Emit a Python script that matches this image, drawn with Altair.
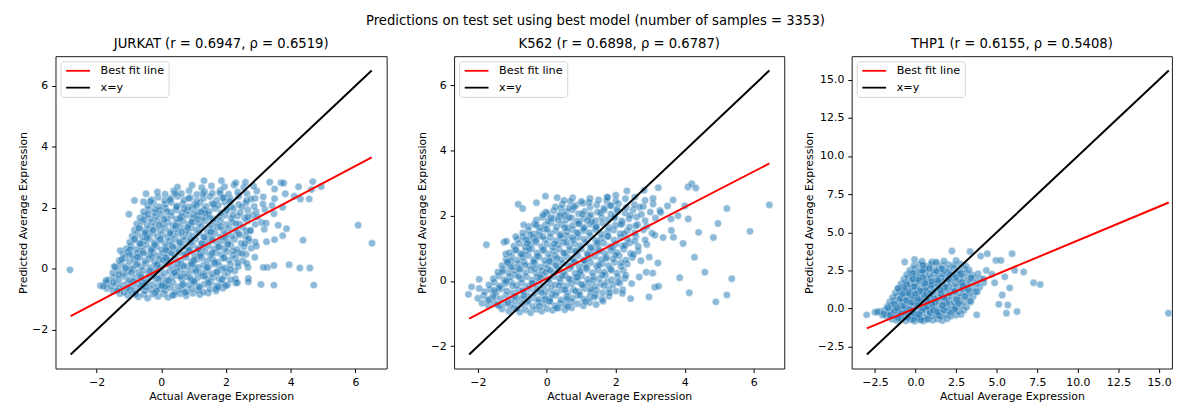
import altair as alt
import pandas as pd

FONT = "DejaVu Sans"

suptitle = "Predictions on test set using best model (number of samples = 3353)"
cell_lines = ["JURKAT", "K562", "THP1"]
pearson_r = ["0.6947", "0.6898", "0.6155"]
spearman_rho = ["0.6519", "0.6787", "0.5408"]
x_label = "Actual Average Expression"
y_label = "Predicted Average Expression"
legend_labels = ["Best fit line", "x=y"]
line_colors = ["#ff0000", "#000000"]

# (actual, predicted) pairs: a representative sample of each dense cloud
jurkat_cloud = [
    (-1.28,-0.81),(-1.04,-0.86),(-0.88,-0.8),(-0.71,-0.91),(-0.55,-0.84),(-0.42,-0.96),(-0.26,-0.83),(-0.1,-0.9),(0.07,-0.82),(0.21,-0.93),(0.39,-0.85),(0.58,-0.81),(0.77,-0.88),(0.98,-0.8),(1.19,-0.84),(1.45,-0.79),
    (-1.68,-0.64),(-1.49,-0.73),(-1.3,-0.66),(-1.15,-0.77),(-0.97,-0.69),(-0.8,-0.74),(-0.66,-0.63),(-0.5,-0.72),(-0.33,-0.67),(-0.19,-0.78),(-0.02,-0.65),(0.13,-0.71),(0.3,-0.62),(0.44,-0.76),(0.63,-0.68),(0.8,-0.73),(0.95,-0.64),(1.13,-0.7),(1.3,-0.76),(1.5,-0.66),(1.69,-0.72),(1.9,-0.63),
    (-1.88,-0.55),(-1.7,-0.46),(-1.54,-0.57),(-1.38,-0.49),(-1.2,-0.53),(-1.04,-0.44),(-0.9,-0.58),(-0.73,-0.5),(-0.58,-0.55),(-0.44,-0.45),(-0.27,-0.52),(-0.11,-0.57),(0.04,-0.47),(0.19,-0.54),(0.36,-0.44),(0.52,-0.58),(0.68,-0.49),(0.85,-0.53),(1.0,-0.45),(1.16,-0.56),(1.33,-0.5),(1.52,-0.43),(1.7,-0.55),(1.86,-0.47),(2.05,-0.52),(2.3,-0.46),
    (-1.62,-0.35),(-1.45,-0.27),(-1.3,-0.33),(-1.12,-0.24),(-0.97,-0.36),(-0.8,-0.29),(-0.64,-0.23),(-0.49,-0.34),(-0.33,-0.27),(-0.16,-0.32),(-0.01,-0.25),(0.16,-0.36),(0.31,-0.28),(0.48,-0.22),(0.63,-0.33),(0.79,-0.26),(0.95,-0.37),(1.12,-0.29),(1.28,-0.23),(1.44,-0.34),(1.61,-0.27),(1.79,-0.32),(1.95,-0.24),(2.14,-0.35),
    (-1.5,-0.13),(-1.33,-0.05),(-1.17,-0.15),(-1.01,-0.08),(-0.86,-0.02),(-0.7,-0.12),(-0.55,-0.06),(-0.38,-0.16),(-0.23,-0.09),(-0.07,-0.03),(0.1,-0.14),(0.26,-0.07),(0.41,-0.12),(0.58,-0.04),(0.73,-0.15),(0.9,-0.08),(1.06,-0.02),(1.22,-0.13),(1.39,-0.06),(1.56,-0.16),(1.72,-0.09),(1.9,-0.03),(2.06,-0.12),(2.27,-0.07),
    (-1.42,0.06),(-1.26,0.15),(-1.1,0.08),(-0.94,0.02),(-0.79,0.13),(-0.62,0.07),(-0.48,0.17),(-0.32,0.04),(-0.16,0.11),(0.0,0.06),(0.17,0.16),(0.33,0.09),(0.49,0.03),(0.64,0.14),(0.81,0.08),(0.97,0.18),(1.14,0.05),(1.3,0.12),(1.46,0.06),(1.63,0.16),(1.8,0.09),(1.97,0.03),(2.14,0.14),(2.38,0.08),
    (-1.3,0.27),(-1.14,0.35),(-0.98,0.24),(-0.83,0.32),(-0.67,0.38),(-0.51,0.26),(-0.36,0.33),(-0.2,0.23),(-0.04,0.31),(0.13,0.37),(0.28,0.25),(0.44,0.34),(0.6,0.28),(0.77,0.38),(0.93,0.24),(1.09,0.31),(1.25,0.36),(1.42,0.26),(1.58,0.33),(1.75,0.23),(1.92,0.35),(2.1,0.28),(2.3,0.34),(2.52,0.27),
    (-1.18,0.47),(-1.03,0.55),(-0.87,0.44),(-0.72,0.52),(-0.56,0.58),(-0.41,0.46),(-0.25,0.53),(-0.09,0.43),(0.07,0.51),(0.23,0.57),(0.39,0.46),(0.55,0.54),(0.71,0.48),(0.87,0.58),(1.03,0.44),(1.2,0.51),(1.36,0.56),(1.52,0.45),(1.69,0.53),(1.86,0.47),(2.03,0.57),(2.21,0.44),(2.4,0.52),(2.62,0.48),
    (-1.08,0.66),(-0.93,0.75),(-0.77,0.64),(-0.62,0.72),(-0.46,0.78),(-0.31,0.66),(-0.15,0.73),(0.01,0.63),(0.17,0.71),(0.33,0.77),(0.49,0.65),(0.65,0.74),(0.81,0.68),(0.97,0.78),(1.13,0.64),(1.3,0.71),(1.46,0.76),(1.63,0.65),(1.8,0.73),(1.97,0.67),(2.15,0.77),(2.34,0.64),(2.55,0.72),(2.78,0.68),
    (-0.98,0.87),(-0.83,0.95),(-0.67,0.84),(-0.52,0.92),(-0.36,0.98),(-0.21,0.86),(-0.05,0.93),(0.11,0.83),(0.27,0.91),(0.43,0.97),(0.59,0.85),(0.75,0.94),(0.91,0.88),(1.07,0.98),(1.24,0.84),(1.4,0.91),(1.57,0.96),(1.73,0.85),(1.9,0.93),(2.07,0.87),(2.26,0.97),(2.47,0.84),(2.7,0.92),(2.9,0.88),
    (-0.9,1.07),(-0.74,1.15),(-0.58,1.04),(-0.43,1.12),(-0.27,1.18),(-0.12,1.06),(0.04,1.13),(0.2,1.03),(0.36,1.11),(0.52,1.17),(0.68,1.05),(0.84,1.14),(1.0,1.08),(1.17,1.18),(1.33,1.04),(1.5,1.11),(1.66,1.16),(1.83,1.05),(2.0,1.13),(2.18,1.07),(2.38,1.17),(2.6,1.06),
    (-0.83,1.27),(-0.67,1.35),(-0.51,1.24),(-0.36,1.32),(-0.2,1.38),(-0.04,1.26),(0.12,1.33),(0.28,1.23),(0.44,1.31),(0.6,1.37),(0.76,1.25),(0.92,1.34),(1.09,1.28),(1.25,1.38),(1.42,1.24),(1.58,1.31),(1.75,1.36),(1.92,1.25),(2.1,1.33),(2.3,1.27),(2.52,1.37),(2.75,1.26),
    (-0.76,1.47),(-0.6,1.55),(-0.44,1.44),(-0.28,1.52),(-0.12,1.58),(0.04,1.46),(0.2,1.53),(0.36,1.43),(0.52,1.51),(0.68,1.57),(0.84,1.45),(1.0,1.54),(1.17,1.48),(1.33,1.58),(1.5,1.44),(1.67,1.51),(1.84,1.56),(2.02,1.45),(2.2,1.53),(2.42,1.47),(2.66,1.57),(2.9,1.46),(3.1,1.52),
    (-0.66,1.67),(-0.5,1.75),(-0.33,1.64),(-0.17,1.72),(-0.01,1.78),(0.15,1.66),(0.31,1.73),(0.47,1.63),(0.63,1.71),(0.79,1.77),(0.96,1.65),(1.12,1.74),(1.29,1.68),(1.45,1.78),(1.62,1.64),(1.79,1.71),(1.97,1.76),(2.16,1.65),(2.36,1.73),(2.58,1.67),(2.82,1.75),
    (-0.55,1.87),(-0.38,1.95),(-0.21,1.84),(-0.04,1.92),(0.13,1.98),(0.3,1.86),(0.46,1.93),(0.63,1.83),(0.8,1.91),(0.97,1.97),(1.14,1.85),(1.31,1.94),(1.48,1.88),(1.66,1.98),(1.84,1.84),(2.03,1.91),(2.23,1.96),(2.44,1.85),(2.67,1.93),(2.93,1.87),(3.2,1.95),
    (-0.42,2.07),(-0.24,2.15),(-0.06,2.04),(0.12,2.12),(0.3,2.18),(0.48,2.06),(0.66,2.13),(0.84,2.03),(1.02,2.11),(1.2,2.17),(1.38,2.05),(1.57,2.14),(1.76,2.08),(1.96,2.18),(2.17,2.04),(2.39,2.11),(2.62,2.16),(2.87,2.05),(3.14,2.13),(3.42,2.08),
    (-0.3,2.27),(-0.1,2.35),(0.1,2.24),(0.3,2.32),(0.5,2.38),(0.7,2.26),(0.9,2.33),(1.1,2.23),(1.3,2.31),(1.5,2.37),(1.71,2.25),(1.93,2.34),(2.15,2.28),(2.39,2.38),(2.63,2.24),(2.9,2.31),(3.15,2.36),(3.5,2.3),
    (-0.12,2.52),(0.12,2.45),(0.38,2.55),(0.62,2.47),(0.86,2.56),(1.1,2.44),(1.34,2.53),(1.58,2.48),(1.82,2.57),(2.08,2.45),(2.36,2.52),(2.64,2.47),(2.95,2.55),
    (0.5,2.68),(0.95,2.74),(1.25,2.66),(1.55,2.72),(1.95,2.69),(2.25,2.75),(2.55,2.67),(2.85,2.71),
]

jurkat_scatter_fill = [
    (-0.87,-0.41),(0.63,1.21),(1.94,0.37),(-0.21,0.79),(0.12,-0.58),(1.37,1.83),(-0.53,1.61),(2.41,1.12),(0.89,-0.29),(-1.31,-0.19),
    (0.47,2.03),(1.72,-0.11),(-0.06,1.44),(2.11,2.22),(0.31,0.52),(-0.74,0.17),(1.15,0.66),(-1.05,-0.63),(0.74,-0.77),(1.58,0.94),
    (-0.34,2.21),(2.67,1.71),(0.05,0.28),(-0.62,-0.27),(1.29,2.46),(0.93,1.52),(-0.15,-0.71),(1.83,1.39),(-0.96,0.64),(0.41,-0.12),
    (2.23,0.59),(-0.44,1.02),(0.69,0.09),(1.46,-0.47),(0.18,1.88),(-1.22,0.31),(2.02,1.96),(0.56,0.88),(-0.28,0.41),(1.07,-0.09),
    (1.66,0.21),(-0.69,1.33),(0.84,2.31),(2.49,2.04),(-0.09,-0.33),(0.27,1.17),(1.21,0.43),(-1.48,-0.44),(0.99,1.78),(1.88,-0.35),
    (-0.47,-0.59),(0.35,-0.86),(2.31,1.48),(-0.82,0.98),(0.58,1.66),(1.53,1.21),(-0.18,1.95),(0.14,0.63),(1.01,0.29),(-0.57,0.52),
    (2.77,2.29),(1.34,-0.23),(0.76,0.47),(-1.11,0.02),(0.43,2.48),(1.77,0.71),(-0.36,-0.05),(0.91,0.96),(1.62,2.11),(-0.02,0.98),
    (2.13,-0.02),(0.22,-0.39),(-0.79,-0.83),(1.12,1.63),(0.66,-0.52),(-0.25,1.27),(1.41,0.05),(1.97,1.03),(0.51,0.17),(-0.65,0.83),
    (0.08,1.62),(2.58,0.83),(1.26,0.83),(-0.92,-0.13),(0.36,0.72),(1.81,2.48),(-0.12,0.14),(0.81,1.36),(1.49,1.67),(-0.41,1.79),
    (2.36,0.19),(0.02,-0.54),(1.69,-0.66),(-1.36,-0.71),(0.6,-0.25),(1.09,2.07),(-0.73,0.38),(2.05,0.81),(0.26,2.26),(-0.31,0.61),
    (1.18,-0.61),(0.95,0.14),(1.57,0.52),(-0.5,1.18),(0.71,1.97),(2.21,1.76),(0.16,0.36),(-0.99,0.46),(1.32,1.04),(0.44,1.41),
    (-0.22,-0.21),(1.9,2.33),(2.62,1.24),(0.87,0.61),(-0.6,-0.43),(1.02,-0.41),(1.24,1.87),
]

jurkat_outliers = [
    (-2.82,-0.03),(-1.79,-0.57),(-1.71,-0.38),(-1.45,0.08),(-1.27,0.6),(-1.0,1.79),(-0.83,2.24),(-0.47,2.46),
    (-0.55,2.2),(1.32,2.89),(1.86,2.89),(2.3,2.82),(2.6,2.84),(3.35,2.84),(3.7,2.82),(3.78,2.81),
    (4.24,2.69),(4.68,2.86),(4.94,2.7),(4.64,2.6),(4.3,2.29),(4.57,2.29),(4.11,2.38),(3.83,2.46),
    (3.5,2.62),(3.75,2.02),(3.48,1.81),(2.97,1.7),(3.24,1.5),(3.18,1.3),(3.61,1.43),(3.87,1.32),
    (3.75,1.09),(3.5,0.96),(3.25,0.89),(2.94,0.75),(4.38,0.94),(6.08,1.43),(6.51,0.84),(4.71,-0.53),
    (4.59,0.03),(4.28,0.03),(3.95,0.14),(3.48,0.11),(3.28,0.05),(3.15,0.05),(3.48,-0.53),(3.08,-0.51),
    (2.69,-0.31),(2.69,-0.42),(2.68,0.05),(2.64,0.18),(2.89,0.38),(2.29,-0.32),(2.35,-0.45),(2.0,-0.55),
    (1.75,-0.6),(2.5,0.5),(2.7,1.0),(2.75,1.25),
]

k562_cloud = [
    (-1.3,-0.86),(-1.1,-0.92),(-0.94,-0.84),(-0.78,-0.95),(-0.62,-0.88),(-0.47,-0.97),(-0.31,-0.87),(-0.15,-0.93),(0.01,-0.85),(0.17,-0.9),(0.34,-0.83),(0.52,-0.88),(0.72,-0.82),
    (-1.88,-0.68),(-1.7,-0.75),(-1.53,-0.66),(-1.37,-0.77),(-1.2,-0.69),(-1.04,-0.74),(-0.89,-0.64),(-0.73,-0.72),(-0.57,-0.67),(-0.41,-0.78),(-0.25,-0.65),(-0.09,-0.71),(0.07,-0.63),(0.23,-0.76),(0.39,-0.68),(0.55,-0.73),(0.72,-0.64),(0.89,-0.7),(1.06,-0.76),(1.24,-0.66),(1.43,-0.72),
    (-2.0,-0.53),(-1.83,-0.45),(-1.67,-0.56),(-1.5,-0.48),(-1.34,-0.54),(-1.18,-0.44),(-1.03,-0.57),(-0.87,-0.5),(-0.71,-0.55),(-0.55,-0.45),(-0.39,-0.52),(-0.23,-0.57),(-0.07,-0.47),(0.09,-0.54),(0.25,-0.44),(0.41,-0.58),(0.57,-0.49),(0.74,-0.53),(0.9,-0.45),(1.07,-0.56),(1.24,-0.5),(1.42,-0.43),(1.6,-0.55),(1.8,-0.47),
    (-1.8,-0.33),(-1.63,-0.26),(-1.47,-0.35),(-1.31,-0.24),(-1.15,-0.31),(-0.99,-0.37),(-0.83,-0.27),(-0.67,-0.33),(-0.51,-0.23),(-0.35,-0.36),(-0.19,-0.28),(-0.03,-0.32),(0.13,-0.24),(0.29,-0.35),(0.45,-0.27),(0.61,-0.37),(0.77,-0.26),(0.93,-0.33),(1.1,-0.23),(1.27,-0.34),(1.44,-0.28),(1.62,-0.36),(1.8,-0.25),(2.0,-0.31),(2.2,-0.27),
    (-1.68,-0.12),(-1.52,-0.04),(-1.36,-0.15),(-1.2,-0.08),(-1.04,-0.02),(-0.88,-0.13),(-0.72,-0.06),(-0.56,-0.16),(-0.4,-0.09),(-0.24,-0.03),(-0.08,-0.14),(0.08,-0.07),(0.24,-0.12),(0.4,-0.04),(0.56,-0.15),(0.72,-0.08),(0.88,-0.02),(1.05,-0.13),(1.22,-0.06),(1.39,-0.16),(1.56,-0.09),(1.74,-0.03),(1.92,-0.12),(2.12,-0.06),
    (-1.55,0.07),(-1.39,0.15),(-1.23,0.04),(-1.07,0.12),(-0.91,0.18),(-0.75,0.06),(-0.59,0.13),(-0.43,0.03),(-0.27,0.11),(-0.11,0.17),(0.05,0.05),(0.21,0.14),(0.37,0.08),(0.53,0.18),(0.69,0.04),(0.85,0.11),(1.01,0.16),(1.18,0.05),(1.35,0.13),(1.52,0.07),(1.7,0.17),(1.88,0.04),(2.06,0.12),(2.26,0.08),
    (-1.42,0.27),(-1.26,0.35),(-1.1,0.24),(-0.94,0.32),(-0.78,0.38),(-0.62,0.26),(-0.46,0.33),(-0.3,0.23),(-0.14,0.31),(0.02,0.37),(0.18,0.25),(0.34,0.34),(0.5,0.28),(0.66,0.38),(0.82,0.24),(0.98,0.31),(1.15,0.36),(1.32,0.25),(1.49,0.33),(1.67,0.27),(1.85,0.37),(2.03,0.24),(2.22,0.32),
    (-1.3,0.47),(-1.14,0.55),(-0.98,0.44),(-0.82,0.52),(-0.66,0.58),(-0.5,0.46),(-0.34,0.53),(-0.18,0.43),(-0.02,0.51),(0.14,0.57),(0.3,0.45),(0.46,0.54),(0.62,0.48),(0.78,0.58),(0.94,0.44),(1.1,0.51),(1.27,0.56),(1.44,0.45),(1.61,0.53),(1.79,0.47),(1.97,0.57),(2.15,0.44),(2.33,0.52),
    (-1.18,0.66),(-1.02,0.75),(-0.86,0.64),(-0.7,0.72),(-0.54,0.78),(-0.38,0.66),(-0.22,0.73),(-0.06,0.63),(0.1,0.71),(0.26,0.77),(0.42,0.65),(0.58,0.74),(0.74,0.68),(0.9,0.78),(1.06,0.64),(1.23,0.71),(1.4,0.76),(1.57,0.65),(1.74,0.73),(1.92,0.67),(2.1,0.77),(2.29,0.64),(2.48,0.72),
    (-1.08,0.87),(-0.92,0.95),(-0.76,0.84),(-0.6,0.92),(-0.44,0.98),(-0.28,0.86),(-0.12,0.93),(0.04,0.83),(0.2,0.91),(0.36,0.97),(0.52,0.85),(0.68,0.94),(0.84,0.88),(1.0,0.98),(1.17,0.84),(1.34,0.91),(1.51,0.96),(1.68,0.85),(1.86,0.93),(2.04,0.87),(2.23,0.97),(2.43,0.84),(2.65,0.92),
    (-0.95,1.07),(-0.79,1.15),(-0.63,1.04),(-0.47,1.12),(-0.31,1.18),(-0.15,1.06),(0.01,1.13),(0.17,1.03),(0.33,1.11),(0.49,1.17),(0.65,1.05),(0.81,1.14),(0.97,1.08),(1.14,1.18),(1.31,1.04),(1.48,1.11),(1.65,1.16),(1.83,1.05),(2.01,1.13),(2.2,1.07),(2.4,1.17),(2.65,1.06),(2.9,1.12),
    (-0.85,1.27),(-0.69,1.35),(-0.53,1.24),(-0.37,1.32),(-0.21,1.38),(-0.05,1.26),(0.11,1.33),(0.27,1.23),(0.43,1.31),(0.59,1.37),(0.75,1.25),(0.91,1.34),(1.08,1.28),(1.25,1.38),(1.42,1.24),(1.59,1.31),(1.77,1.36),(1.95,1.25),(2.14,1.33),(2.34,1.27),(2.58,1.37),(2.85,1.26),
    (-0.7,1.47),(-0.54,1.55),(-0.38,1.44),(-0.22,1.52),(-0.06,1.58),(0.1,1.46),(0.26,1.53),(0.42,1.43),(0.58,1.51),(0.74,1.57),(0.9,1.45),(1.07,1.54),(1.24,1.48),(1.41,1.58),(1.58,1.44),(1.76,1.51),(1.94,1.56),(2.13,1.45),(2.33,1.53),(2.55,1.47),(2.8,1.57),(3.05,1.46),
    (-0.52,1.67),(-0.36,1.75),(-0.2,1.64),(-0.04,1.72),(0.12,1.78),(0.28,1.66),(0.44,1.73),(0.6,1.63),(0.76,1.71),(0.93,1.77),(1.1,1.65),(1.27,1.74),(1.44,1.68),(1.62,1.78),(1.8,1.64),(1.99,1.71),(2.19,1.76),(2.4,1.65),(2.63,1.73),(2.9,1.67),
    (-0.3,1.87),(-0.13,1.95),(0.04,1.84),(0.21,1.92),(0.38,1.98),(0.55,1.86),(0.72,1.93),(0.89,1.83),(1.06,1.91),(1.23,1.97),(1.41,1.85),(1.59,1.94),(1.78,1.88),(1.97,1.98),(2.17,1.84),(2.38,1.91),(2.6,1.96),(2.85,1.85),(3.15,1.93),
    (0.02,2.07),(0.2,2.15),(0.38,2.04),(0.56,2.12),(0.74,2.18),(0.92,2.06),(1.1,2.13),(1.28,2.03),(1.47,2.11),(1.66,2.17),(1.86,2.05),(2.06,2.14),(2.27,2.08),(2.5,2.18),(2.74,2.04),(3.0,2.11),(3.28,2.16),
    (0.25,2.27),(0.45,2.35),(0.65,2.24),(0.85,2.32),(1.05,2.38),(1.25,2.26),(1.45,2.33),(1.66,2.23),(1.87,2.31),(2.08,2.37),(2.3,2.25),(2.54,2.34),(2.8,2.28),(3.08,2.36),
    (0.5,2.47),(0.75,2.55),(1.0,2.44),(1.25,2.53),(1.5,2.48),(1.75,2.56),(2.0,2.45),(2.28,2.52),(2.55,2.57),(2.85,2.47),
]

k562_scatter_fill = [
    (-0.93,-0.47),(0.57,1.19),(1.87,0.33),(-0.27,0.77),(0.09,-0.62),(1.31,1.81),(-0.48,1.41),(2.27,1.09),(0.83,-0.31),(-1.39,-0.21),
    (0.51,2.01),(1.66,-0.14),(-0.11,1.36),(2.03,2.19),(0.26,0.49),(-0.81,0.14),(1.09,0.63),(-1.13,-0.66),(0.61,-0.79),(1.52,0.91),
    (-0.03,2.11),(2.58,1.69),(-0.02,0.26),(-0.69,-0.29),(1.23,2.41),(0.88,1.49),(-0.22,-0.77),(1.77,1.37),(-1.03,0.61),(0.36,-0.14),
    (2.16,0.56),(-0.51,0.99),(0.63,0.07),(1.38,-0.49),(0.34,1.86),(-1.29,0.28),(1.96,1.93),(0.49,0.86),(-0.35,0.38),(1.01,-0.11),
    (1.61,0.19),(-0.61,1.27),(0.79,2.27),(2.42,2.01),(-0.16,-0.35),(0.21,1.14),(1.15,0.41),(-1.56,-0.46),(0.93,1.75),(1.82,-0.37),
    (-0.54,-0.61),(0.29,-0.83),(2.24,1.45),(-0.89,0.95),(0.52,1.63),(1.47,1.18),(0.12,1.93),(0.07,0.61),(0.95,0.27),(-0.63,0.49),
    (2.69,2.26),(1.28,-0.25),(0.71,0.45),(-1.18,-0.01),(0.68,2.44),(1.71,0.69),(-0.43,-0.07),(0.85,0.93),(1.56,2.09),(-0.09,0.96),
    (2.07,-0.04),(0.16,-0.41),(-0.86,-0.85),(1.06,1.61),(0.59,-0.55),(-0.32,1.24),(1.35,0.03),(1.91,1.01),(0.45,0.15),(-0.72,0.81),
    (0.01,1.59),(2.51,0.81),(1.19,0.81),(-0.99,-0.15),(0.29,0.69),(1.74,2.45),(-0.19,0.12),(0.75,1.33),(1.43,1.65),(-0.31,1.71),
    (2.29,0.17),(-0.05,-0.56),(1.63,-0.62),(-1.43,-0.73),(0.53,-0.27),(1.03,2.05),(-0.79,0.35),(1.99,0.79),(0.41,2.23),(-0.38,0.59),
    (1.12,-0.63),(0.89,0.12),(1.51,0.49),(-0.57,1.15),(0.65,1.95),(2.14,1.73),(0.1,0.34),(-1.06,0.43),(1.26,1.01),(0.38,1.39),
    (-0.29,-0.23),(1.84,2.31),(2.55,1.22),(0.81,0.59),(-0.67,-0.45),(0.96,-0.43),(1.18,1.85),(-1.7,-0.59),(-1.52,-0.29),
]

k562_outliers = [
    (-2.27,-0.41),(-2.18,-0.18),(-1.96,-0.23),(-1.96,0.05),(-1.75,1.11),(-1.24,1.19),(-1.17,1.22),(-0.9,1.36),
    (-0.83,2.35),(-0.7,2.22),(-0.3,2.4),(-0.04,2.6),(0.3,2.55),(-0.67,1.72),(-1.14,0.58),(-1.19,0.83),
    (-0.11,2.03),(1.76,2.57),(2.0,2.63),(2.32,2.76),(2.82,2.78),(3.08,2.53),(3.23,2.86),(3.66,2.48),
    (4.09,2.88),(4.2,2.98),(4.32,2.85),(6.45,2.33),(5.22,2.22),(5.89,1.52),(4.96,1.76),(4.83,1.33),
    (4.58,0.27),(5.36,0.07),(3.85,0.1),(4.13,-0.36),(5.22,-0.43),(4.9,-0.64),(4.28,0.73),(3.95,1.15),
    (3.67,1.34),(4.4,1.49),(3.61,1.55),(3.37,1.33),(3.13,1.4),(3.6,1.9),(2.96,-0.49),(2.43,-0.54),
    (2.19,-0.38),(2.46,-0.08),(2.68,0.12),(2.88,0.27),(3.07,0.24),(3.13,-0.19),(3.24,-0.16),(3.22,0.55),
    (2.73,0.62),(2.97,0.73),(3.3,2.1),(3.5,2.3),(4.0,2.3),(4.1,1.9),(3.8,2.0),
]

thp1_cloud = [
    (-1.45,-0.7),(-1.15,-0.78),(-0.88,-0.68),(-0.6,-0.8),(-0.32,-0.72),(-0.05,-0.82),(0.22,-0.7),(0.5,-0.79),(0.78,-0.67),(1.06,-0.76),(1.35,-0.69),(1.65,-0.78),(1.95,-0.66),
    (-2.05,-0.42),(-1.78,-0.5),(-1.5,-0.4),(-1.22,-0.52),(-0.95,-0.43),(-0.67,-0.55),(-0.4,-0.41),(-0.12,-0.5),(0.16,-0.44),(0.44,-0.56),(0.72,-0.4),(1.0,-0.49),(1.28,-0.42),(1.57,-0.53),(1.86,-0.41),(2.16,-0.5),(2.48,-0.43),(2.8,-0.38),
    (-2.2,-0.18),(-1.9,-0.1),(-1.62,-0.2),(-1.34,-0.08),(-1.06,-0.17),(-0.78,-0.05),(-0.5,-0.15),(-0.22,-0.22),(0.06,-0.09),(0.34,-0.19),(0.62,-0.06),(0.9,-0.16),(1.18,-0.1),(1.46,-0.21),(1.75,-0.07),(2.04,-0.17),(2.34,-0.09),(2.65,-0.19),(2.98,-0.1),
    (-1.75,0.12),(-1.47,0.2),(-1.19,0.08),(-0.91,0.18),(-0.63,0.1),(-0.35,0.22),(-0.07,0.11),(0.21,0.19),(0.49,0.06),(0.77,0.16),(1.05,0.22),(1.33,0.09),(1.62,0.18),(1.91,0.08),(2.2,0.2),(2.5,0.11),(2.82,0.19),(3.15,0.1),
    (-1.6,0.42),(-1.32,0.5),(-1.04,0.39),(-0.76,0.48),(-0.48,0.55),(-0.2,0.41),(0.08,0.5),(0.36,0.38),(0.64,0.47),(0.92,0.54),(1.2,0.4),(1.48,0.49),(1.77,0.43),(2.06,0.53),(2.36,0.4),(2.67,0.48),(3.0,0.44),(3.35,0.5),
    (-1.42,0.72),(-1.14,0.8),(-0.86,0.69),(-0.58,0.78),(-0.3,0.85),(-0.02,0.71),(0.26,0.8),(0.54,0.68),(0.82,0.77),(1.1,0.84),(1.38,0.7),(1.66,0.79),(1.95,0.73),(2.24,0.83),(2.54,0.7),(2.85,0.78),(3.18,0.74),(3.55,0.8),
    (-1.25,1.02),(-0.97,1.1),(-0.69,0.99),(-0.41,1.08),(-0.13,1.15),(0.15,1.01),(0.43,1.1),(0.71,0.98),(0.99,1.07),(1.27,1.14),(1.55,1.0),(1.83,1.09),(2.12,1.03),(2.41,1.13),(2.71,1.0),(3.02,1.08),(3.35,1.04),(3.7,1.1),
    (-1.08,1.32),(-0.8,1.4),(-0.52,1.29),(-0.24,1.38),(0.04,1.45),(0.32,1.31),(0.6,1.4),(0.88,1.28),(1.16,1.37),(1.44,1.44),(1.72,1.3),(2.0,1.39),(2.29,1.33),(2.58,1.43),(2.88,1.3),(3.2,1.38),(3.55,1.34),(3.95,1.4),
    (-0.9,1.62),(-0.62,1.7),(-0.34,1.59),(-0.06,1.68),(0.22,1.75),(0.5,1.61),(0.78,1.7),(1.06,1.58),(1.34,1.67),(1.62,1.74),(1.9,1.6),(2.18,1.69),(2.47,1.63),(2.77,1.73),(3.08,1.6),(3.4,1.68),(3.78,1.64),(4.2,1.7),
    (-0.72,1.92),(-0.44,2.0),(-0.16,1.89),(0.12,1.98),(0.4,2.05),(0.68,1.91),(0.96,2.0),(1.24,1.88),(1.52,1.97),(1.8,2.04),(2.08,1.9),(2.37,1.99),(2.66,1.93),(2.96,2.03),(3.28,1.9),(3.62,1.98),(4.0,1.95),
    (-0.55,2.22),(-0.27,2.3),(0.01,2.19),(0.29,2.28),(0.57,2.35),(0.85,2.21),(1.13,2.3),(1.41,2.18),(1.69,2.27),(1.97,2.34),(2.26,2.2),(2.55,2.29),(2.85,2.23),(3.17,2.33),(3.5,2.2),(3.85,2.28),
    (-0.35,2.52),(-0.05,2.6),(0.25,2.49),(0.55,2.58),(0.85,2.65),(1.15,2.51),(1.45,2.6),(1.75,2.48),(2.05,2.57),(2.35,2.64),(2.65,2.5),(2.98,2.58),(3.3,2.53),
    (-0.1,2.82),(0.25,2.9),(0.6,2.79),(0.95,2.88),(1.3,2.95),(1.65,2.81),(2.0,2.9),(2.35,2.84),(2.75,2.93),(3.1,2.8),
    (0.4,3.1),(1.0,3.05),(1.75,3.12),(2.5,3.15),
]

thp1_scatter_fill = [
    (-0.87,-0.31),(0.63,1.21),(1.94,0.37),(-0.21,0.79),(0.12,-0.58),(1.37,1.83),(-0.53,1.61),(2.41,1.12),(0.89,-0.29),(-1.31,-0.19),
    (0.47,2.03),(1.72,-0.11),(-0.06,1.44),(2.11,2.22),(0.31,0.52),(-0.74,0.17),(1.15,0.66),(-1.05,-0.63),(0.74,-0.7),(1.58,0.94),
    (-0.14,2.31),(2.87,1.71),(0.05,0.28),(-0.62,-0.27),(1.29,2.46),(0.93,1.52),(-0.15,-0.71),(1.83,1.39),(-0.96,0.64),(0.41,-0.12),
    (2.53,0.59),(-0.44,1.02),(0.69,0.09),(1.46,-0.47),(0.18,1.88),(-1.32,0.31),(2.02,1.96),(0.56,0.88),(-0.28,0.41),(1.07,-0.09),
    (1.66,0.21),(-0.69,1.33),(0.84,2.61),(2.49,2.04),(-0.09,-0.33),(0.27,1.17),(1.21,0.43),(-1.58,-0.44),(0.99,1.78),(2.18,-0.25),
    (-0.47,-0.59),(0.35,-0.76),(2.91,1.48),(-0.82,0.98),(0.58,1.66),(1.53,1.21),(-0.18,1.95),(0.14,0.63),(1.01,0.29),(-0.57,0.52),
    (2.77,2.29),(1.34,-0.23),(0.76,0.47),(-1.11,0.02),(0.43,2.48),(1.77,0.71),(-0.36,-0.05),(0.91,0.96),(1.62,2.61),(-0.02,0.98),
    (2.43,-0.02),(0.22,-0.39),(3.25,1.2),(3.41,2.02),(2.65,0.35),(3.05,0.82),
]

thp1_outliers = [
    (-3.01,-0.41),(-2.5,-0.24),(-2.35,-0.22),(-1.96,-0.35),(-1.69,0.06),(-1.08,1.32),(-0.67,3.05),(-0.06,3.22),
    (0.45,2.85),(1.26,3.05),(2.24,3.77),(3.36,3.74),(4.01,3.44),(4.42,3.6),(4.95,3.16),(5.26,3.16),
    (5.95,3.6),(6.11,2.51),(6.66,2.4),(5.5,2.08),(4.87,1.69),(5.8,1.36),(7.27,1.69),(7.68,1.58),
    (5.34,0.89),(5.13,0.28),(5.68,0.24),(5.6,-0.3),(6.25,-0.19),(3.77,-0.41),(15.58,-0.3),
    (4.36,2.5),(4.2,1.95),(4.7,2.25),(3.8,1.1),(3.4,0.45),
]

jurkat_line_x = [-2.8, 6.5]
jurkat_fit_y = [-1.55, 3.65]
k562_line_x = [-2.25, 6.45]
k562_fit_y = [-1.15, 3.6]
thp1_line_x = [-3.0, 15.6]
thp1_fit_y = [-1.3, 6.95]

jurkat_domain = [-3.265, 6.965]
k562_domain = [-2.685, 6.885]
thp1_x_domain = [-3.93, 15.8]
thp1_y_domain = [-3.93, 16.53]

ticks_small = [-2, 0, 2, 4, 6]
ticks_thp1 = [-2.5, 0.0, 2.5, 5.0, 7.5, 10.0, 12.5, 15.0]

PLOT_H = 315
TITLE_SIZE = 13.3


def panel(name, r, rho, pts, line_x, fit_y, xdom, ydom, ticks, fmt, width):
    pts_df = pd.DataFrame(pts, columns=["actual", "predicted"])
    lines_df = pd.DataFrame({
        "series": [legend_labels[0]] * 2 + [legend_labels[1]] * 2,
        "actual": line_x + line_x,
        "predicted": fit_y + line_x,
    })
    xs = alt.Scale(domain=xdom, nice=False, zero=False)
    ys = alt.Scale(domain=ydom, nice=False, zero=False)
    xax = alt.Axis(values=ticks, format=fmt, title=x_label)
    yax = alt.Axis(values=ticks, format=fmt, title=y_label)
    scatter = alt.Chart(pts_df).mark_circle(
        size=56, color="#1f77b4", opacity=0.5, stroke="white", strokeWidth=0.5
    ).encode(
        x=alt.X("actual:Q", scale=xs, axis=xax),
        y=alt.Y("predicted:Q", scale=ys, axis=yax),
    )
    lines = alt.Chart(lines_df).mark_line(strokeWidth=2).encode(
        x=alt.X("actual:Q", scale=xs, axis=xax),
        y=alt.Y("predicted:Q", scale=ys, axis=yax),
        color=alt.Color(
            "series:N",
            scale=alt.Scale(domain=legend_labels, range=line_colors),
            legend=alt.Legend(
                title=None, orient="top-left", offset=5, padding=4,
                fillColor="white", strokeColor="#d5d5d5", cornerRadius=3,
                symbolType="M-1,0H5", symbolSize=64, symbolStrokeWidth=1.8,
                labelFontSize=11.3, labelFont=FONT, labelColor="black",
                rowPadding=5, labelOffset=25,
            ),
        ),
    )
    return alt.layer(scatter, lines).properties(
        width=width, height=PLOT_H,
        title=alt.TitleParams(f"{name} (r = {r}, ρ = {rho})", fontSize=TITLE_SIZE,
                              font=FONT, fontWeight="normal", offset=6),
    )


p1 = panel(cell_lines[0], pearson_r[0], spearman_rho[0],
           jurkat_cloud + jurkat_scatter_fill + jurkat_outliers,
           jurkat_line_x, jurkat_fit_y, jurkat_domain, jurkat_domain, ticks_small, "d", 334)
p2 = panel(cell_lines[1], pearson_r[1], spearman_rho[1],
           k562_cloud + k562_scatter_fill + k562_outliers,
           k562_line_x, k562_fit_y, k562_domain, k562_domain, ticks_small, "d", 333)
p3 = panel(cell_lines[2], pearson_r[2], spearman_rho[2],
           thp1_cloud + thp1_scatter_fill + thp1_outliers,
           thp1_line_x, thp1_fit_y, thp1_x_domain, thp1_y_domain, ticks_thp1, ".1f", 323)

chart = alt.hconcat(p1, p2, p3, spacing=68, bounds="flush").resolve_scale(
    color="independent"
).resolve_legend(color="independent").properties(
    title=alt.TitleParams(suptitle, anchor="middle", fontSize=TITLE_SIZE, font=FONT,
                          fontWeight="normal", offset=10),
    padding={"left": 9, "top": 3, "right": 0, "bottom": 0},
).configure_view(
    stroke="black", strokeWidth=0.9
).configure_axis(
    grid=False, domain=False, tickColor="black", tickSize=4, labelFontSize=11,
    labelFont=FONT, labelColor="black", titleFont=FONT, titleFontSize=11,
    titleFontWeight="normal", titleColor="black", labelPadding=4, titlePadding=3,
).configure_title(
    font=FONT, fontSize=TITLE_SIZE, fontWeight="normal", color="black"
)

chart.save("out.html", embed_options={"renderer": "svg", "actions": False})
